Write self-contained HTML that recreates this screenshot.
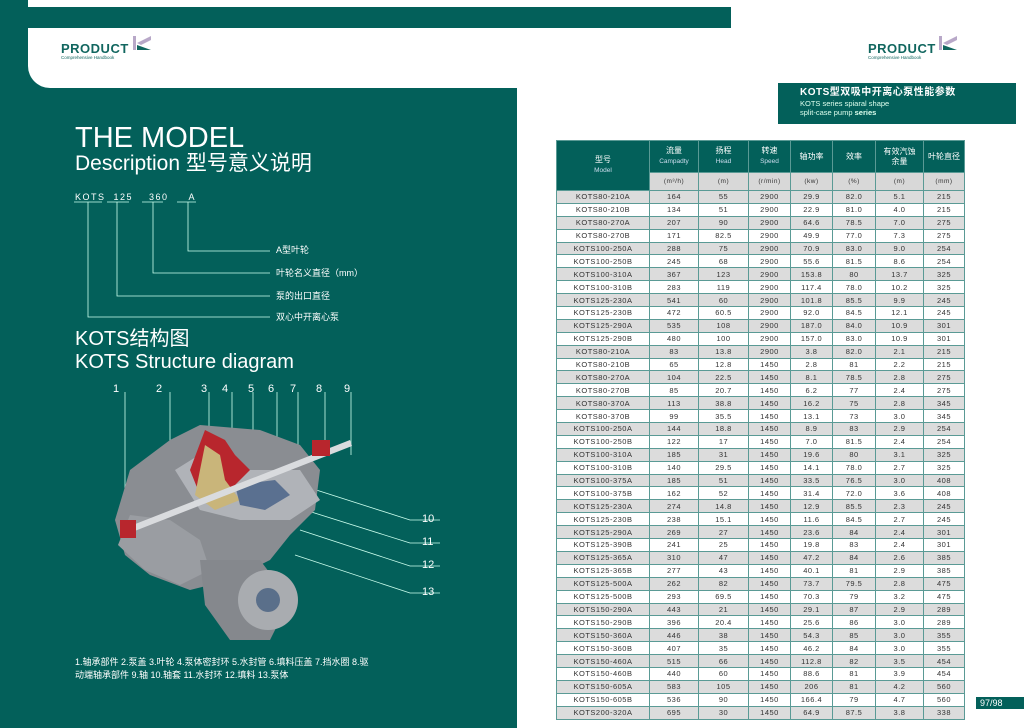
<!DOCTYPE html>
<html><head><meta charset="utf-8"><style>
*{margin:0;padding:0;box-sizing:border-box}
body{width:1024px;height:728px;position:relative;overflow:hidden;background:#fff;font-family:"Liberation Sans","Noto Sans CJK SC",sans-serif}
.abs{position:absolute}
.teal{background:#03605a}
table{border-collapse:collapse;position:absolute;left:556px;top:140px;width:408px;table-layout:fixed}
td{border:1px solid #5a9a95;text-align:center;font-size:7.5px;color:#333;height:12.9px;padding:0;line-height:11px;letter-spacing:0.5px}
tr.g td{background:#dcdcdc}
th{background:#03605a;color:#fff;font-weight:normal;font-size:8px;border:1px solid #5a9a95;line-height:10px}
th small{font-size:6.5px;color:#cde}
.u td{background:#d8d8d8;height:18px;font-size:6.5px}
.wt{color:#fff}
</style></head><body>
<div class="abs teal" style="left:0;top:0;width:28px;height:728px"></div>
<div class="abs teal" style="left:0;top:7px;width:731px;height:21px"></div>
<div class="abs teal" style="left:0;top:60px;width:517px;height:668px;border-top-right-radius:22px"></div>
<div class="abs" style="left:28px;top:28px;width:500px;height:60px;background:#fff;border-bottom-left-radius:22px"></div>
<div class="abs" style="left:61px;top:41px;color:#11665f;font-size:13px;font-weight:bold;letter-spacing:0.5px">PRODUCT</div>
<div class="abs" style="left:61px;top:55px;color:#11665f;font-size:4.5px">Comprehensive Handbook</div>
<svg class="abs" style="left:131px;top:34px" width="24" height="24"><rect x="2" y="2" width="3" height="14" fill="#b8a8c8"/><polygon points="6,9 20,2 20,6 10,11" fill="#b8a8c8"/><polygon points="6,11 20,16 6,16" fill="#11665f"/></svg>
<div class="abs" style="left:868px;top:41px;color:#11665f;font-size:13px;font-weight:bold;letter-spacing:0.5px">PRODUCT</div>
<div class="abs" style="left:868px;top:55px;color:#11665f;font-size:4.5px">Comprehensive Handbook</div>
<svg class="abs" style="left:937px;top:34px" width="24" height="24"><rect x="2" y="2" width="3" height="14" fill="#b8a8c8"/><polygon points="6,9 20,2 20,6 10,11" fill="#b8a8c8"/><polygon points="6,11 20,16 6,16" fill="#11665f"/></svg>
<div class="abs teal" style="left:778px;top:83px;width:238px;height:41px;padding:4px 0 0 22px;color:#fff">
<div style="font-size:10px;font-weight:bold;line-height:12px;letter-spacing:0.5px">KOTS型双吸中开离心泵性能参数</div>
<div style="font-size:7.5px;line-height:9px;color:#dfe">KOTS series spiaral shape<br>split-case pump <b>series</b></div></div>
<div class="abs wt" style="left:75px;top:122px;font-size:29px;line-height:32px">THE MODEL</div>
<div class="abs wt" style="left:75px;top:151px;font-size:21px;line-height:25px">Description 型号意义说明</div>
<div class="abs wt" style="left:75px;top:192px;font-size:9px;letter-spacing:1.5px">KOTS&nbsp;&nbsp;125&nbsp;&nbsp;&nbsp;&nbsp;360&nbsp;&nbsp;&nbsp;&nbsp;&nbsp;A</div>
<svg class="abs" style="left:0;top:0" width="520" height="728">
<g stroke="#cfe" stroke-width="0.8" fill="none">
<path d="M74 202H102M107 202H129M142 202H163M177 202H196"/>
<path d="M88 202V317H270M117 202V296H270M153 202V273H270M188 202V251H270"/>
<path d="M125 392V535M170 392V470M209 392V470M232 392V460M253 392V448M277 392V455M298 392V460M325 392V455M351 392V455"/>
<path d="M310 488L410 520H440M305 510L410 543H440M300 530L410 566H440M295 555L410 593H440"/>
</g>
<g fill="#fff" font-size="9" font-family="Liberation Sans,Noto Sans CJK SC,sans-serif">
<text x="276" y="253">A型叶轮</text><text x="276" y="276">叶轮名义直径（mm）</text>
<text x="276" y="299">泵的出口直径</text><text x="276" y="320">双心中开离心泵</text>
</g>
<g fill="#fff" font-size="11" font-family="Liberation Sans,sans-serif">
<text x="113" y="392">1</text><text x="156" y="392">2</text><text x="201" y="392">3</text><text x="222" y="392">4</text><text x="248" y="392">5</text><text x="268" y="392">6</text><text x="290" y="392">7</text><text x="316" y="392">8</text><text x="344" y="392">9</text>
<text x="422" y="522">10</text><text x="422" y="545">11</text><text x="422" y="568">12</text><text x="422" y="595">13</text>
</g>
<g>
<path d="M170 440L200 425L260 430L300 445L320 470L315 510L290 535L270 560L230 580L190 590L150 575L125 555L115 520L130 470Z" fill="#8a8d92"/>
<path d="M130 515L170 520L200 540L210 570L180 585L145 570L118 545Z" fill="#9a9da2"/>
<path d="M200 560L260 560L290 600L270 640L230 640L205 605Z" fill="#85888d"/>
<circle cx="268" cy="600" r="30" fill="#a9acb0"/><circle cx="268" cy="600" r="12" fill="#5a6f8a"/>
<path d="M175 470L215 445L245 470L300 470L320 500L290 520L240 520L200 510Z" fill="#b0b3b8"/>
<path d="M205 430L225 440L235 455L250 470L220 500L200 495L190 470Z" fill="#b8262d"/>
<path d="M205 445L220 455L225 480L240 500L215 510L195 495L200 470Z" fill="#c9b57a"/>
<path d="M235 485L275 480L290 495L265 510L240 505Z" fill="#5a7090"/>
<path d="M120 530L350 440L352 446L122 536Z" fill="#d9dbde"/>
<rect x="120" y="520" width="16" height="18" fill="#b8262d"/>
<rect x="312" y="440" width="18" height="16" fill="#b8262d"/>
</g>
</svg>
<div class="abs wt" style="left:75px;top:327px;font-size:20px;line-height:24px">KOTS结构图</div>
<div class="abs wt" style="left:75px;top:350px;font-size:20px;line-height:24px">KOTS Structure diagram</div>
<div class="abs wt" style="left:75px;top:656px;font-size:9px;line-height:13px">1.轴承部件 2.泵盖 3.叶轮 4.泵体密封环 5.水封管 6.填料压盖 7.挡水圈 8.驱<br>动端轴承部件 9.轴 10.轴套 11.水封环 12.填料 13.泵体</div>
<table>
<colgroup><col style="width:93px"><col style="width:49px"><col style="width:50px"><col style="width:42px"><col style="width:42px"><col style="width:43px"><col style="width:48px"><col style="width:41px"></colgroup>
<tr style="height:32px"><th rowspan="2">型号<br><small>Model</small></th><th>流量<br><small>Campadty</small></th><th>扬程<br><small>Head</small></th><th>转速<br><small>Speed</small></th><th>轴功率</th><th>效率</th><th>有效汽蚀<br>余量</th><th>叶轮直径</th></tr>
<tr class="u"><td>(m³/h)</td><td>(m)</td><td>(r/min)</td><td>(kw)</td><td>(%)</td><td>(m)</td><td>(mm)</td></tr>
<tr class="g"><td>KOTS80-210A</td><td>164</td><td>55</td><td>2900</td><td>29.9</td><td>82.0</td><td>5.1</td><td>215</td></tr>
<tr><td>KOTS80-210B</td><td>134</td><td>51</td><td>2900</td><td>22.9</td><td>81.0</td><td>4.0</td><td>215</td></tr>
<tr class="g"><td>KOTS80-270A</td><td>207</td><td>90</td><td>2900</td><td>64.6</td><td>78.5</td><td>7.0</td><td>275</td></tr>
<tr><td>KOTS80-270B</td><td>171</td><td>82.5</td><td>2900</td><td>49.9</td><td>77.0</td><td>7.3</td><td>275</td></tr>
<tr class="g"><td>KOTS100-250A</td><td>288</td><td>75</td><td>2900</td><td>70.9</td><td>83.0</td><td>9.0</td><td>254</td></tr>
<tr><td>KOTS100-250B</td><td>245</td><td>68</td><td>2900</td><td>55.6</td><td>81.5</td><td>8.6</td><td>254</td></tr>
<tr class="g"><td>KOTS100-310A</td><td>367</td><td>123</td><td>2900</td><td>153.8</td><td>80</td><td>13.7</td><td>325</td></tr>
<tr><td>KOTS100-310B</td><td>283</td><td>119</td><td>2900</td><td>117.4</td><td>78.0</td><td>10.2</td><td>325</td></tr>
<tr class="g"><td>KOTS125-230A</td><td>541</td><td>60</td><td>2900</td><td>101.8</td><td>85.5</td><td>9.9</td><td>245</td></tr>
<tr><td>KOTS125-230B</td><td>472</td><td>60.5</td><td>2900</td><td>92.0</td><td>84.5</td><td>12.1</td><td>245</td></tr>
<tr class="g"><td>KOTS125-290A</td><td>535</td><td>108</td><td>2900</td><td>187.0</td><td>84.0</td><td>10.9</td><td>301</td></tr>
<tr><td>KOTS125-290B</td><td>480</td><td>100</td><td>2900</td><td>157.0</td><td>83.0</td><td>10.9</td><td>301</td></tr>
<tr class="g"><td>KOTS80-210A</td><td>83</td><td>13.8</td><td>2900</td><td>3.8</td><td>82.0</td><td>2.1</td><td>215</td></tr>
<tr><td>KOTS80-210B</td><td>65</td><td>12.8</td><td>1450</td><td>2.8</td><td>81</td><td>2.2</td><td>215</td></tr>
<tr class="g"><td>KOTS80-270A</td><td>104</td><td>22.5</td><td>1450</td><td>8.1</td><td>78.5</td><td>2.8</td><td>275</td></tr>
<tr><td>KOTS80-270B</td><td>85</td><td>20.7</td><td>1450</td><td>6.2</td><td>77</td><td>2.4</td><td>275</td></tr>
<tr class="g"><td>KOTS80-370A</td><td>113</td><td>38.8</td><td>1450</td><td>16.2</td><td>75</td><td>2.8</td><td>345</td></tr>
<tr><td>KOTS80-370B</td><td>99</td><td>35.5</td><td>1450</td><td>13.1</td><td>73</td><td>3.0</td><td>345</td></tr>
<tr class="g"><td>KOTS100-250A</td><td>144</td><td>18.8</td><td>1450</td><td>8.9</td><td>83</td><td>2.9</td><td>254</td></tr>
<tr><td>KOTS100-250B</td><td>122</td><td>17</td><td>1450</td><td>7.0</td><td>81.5</td><td>2.4</td><td>254</td></tr>
<tr class="g"><td>KOTS100-310A</td><td>185</td><td>31</td><td>1450</td><td>19.6</td><td>80</td><td>3.1</td><td>325</td></tr>
<tr><td>KOTS100-310B</td><td>140</td><td>29.5</td><td>1450</td><td>14.1</td><td>78.0</td><td>2.7</td><td>325</td></tr>
<tr class="g"><td>KOTS100-375A</td><td>185</td><td>51</td><td>1450</td><td>33.5</td><td>76.5</td><td>3.0</td><td>408</td></tr>
<tr><td>KOTS100-375B</td><td>162</td><td>52</td><td>1450</td><td>31.4</td><td>72.0</td><td>3.6</td><td>408</td></tr>
<tr class="g"><td>KOTS125-230A</td><td>274</td><td>14.8</td><td>1450</td><td>12.9</td><td>85.5</td><td>2.3</td><td>245</td></tr>
<tr><td>KOTS125-230B</td><td>238</td><td>15.1</td><td>1450</td><td>11.6</td><td>84.5</td><td>2.7</td><td>245</td></tr>
<tr class="g"><td>KOTS125-290A</td><td>269</td><td>27</td><td>1450</td><td>23.6</td><td>84</td><td>2.4</td><td>301</td></tr>
<tr><td>KOTS125-390B</td><td>241</td><td>25</td><td>1450</td><td>19.8</td><td>83</td><td>2.4</td><td>301</td></tr>
<tr class="g"><td>KOTS125-365A</td><td>310</td><td>47</td><td>1450</td><td>47.2</td><td>84</td><td>2.6</td><td>385</td></tr>
<tr><td>KOTS125-365B</td><td>277</td><td>43</td><td>1450</td><td>40.1</td><td>81</td><td>2.9</td><td>385</td></tr>
<tr class="g"><td>KOTS125-500A</td><td>262</td><td>82</td><td>1450</td><td>73.7</td><td>79.5</td><td>2.8</td><td>475</td></tr>
<tr><td>KOTS125-500B</td><td>293</td><td>69.5</td><td>1450</td><td>70.3</td><td>79</td><td>3.2</td><td>475</td></tr>
<tr class="g"><td>KOTS150-290A</td><td>443</td><td>21</td><td>1450</td><td>29.1</td><td>87</td><td>2.9</td><td>289</td></tr>
<tr><td>KOTS150-290B</td><td>396</td><td>20.4</td><td>1450</td><td>25.6</td><td>86</td><td>3.0</td><td>289</td></tr>
<tr class="g"><td>KOTS150-360A</td><td>446</td><td>38</td><td>1450</td><td>54.3</td><td>85</td><td>3.0</td><td>355</td></tr>
<tr><td>KOTS150-360B</td><td>407</td><td>35</td><td>1450</td><td>46.2</td><td>84</td><td>3.0</td><td>355</td></tr>
<tr class="g"><td>KOTS150-460A</td><td>515</td><td>66</td><td>1450</td><td>112.8</td><td>82</td><td>3.5</td><td>454</td></tr>
<tr><td>KOTS150-460B</td><td>440</td><td>60</td><td>1450</td><td>88.6</td><td>81</td><td>3.9</td><td>454</td></tr>
<tr class="g"><td>KOTS150-605A</td><td>583</td><td>105</td><td>1450</td><td>206</td><td>81</td><td>4.2</td><td>560</td></tr>
<tr><td>KOTS150-605B</td><td>536</td><td>90</td><td>1450</td><td>166.4</td><td>79</td><td>4.7</td><td>560</td></tr>
<tr class="g"><td>KOTS200-320A</td><td>695</td><td>30</td><td>1450</td><td>64.9</td><td>87.5</td><td>3.8</td><td>338</td></tr>
</table>
<div class="abs teal" style="left:976px;top:697px;width:48px;height:12px;color:#fff;font-size:9px;line-height:12px;padding-left:4px">97/98</div>
</body></html>
